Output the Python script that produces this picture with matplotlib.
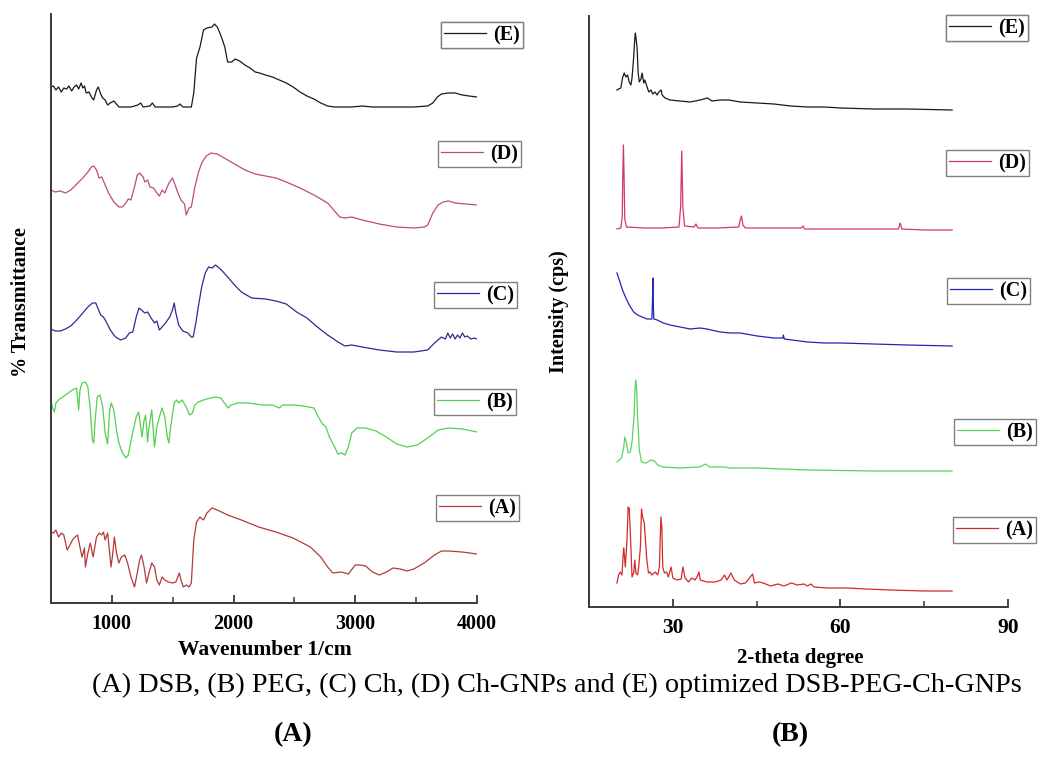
import numpy as np
import matplotlib
matplotlib.use("Agg")
import matplotlib.pyplot as plt
from matplotlib.ticker import MultipleLocator

plt.rcParams['font.family'] = ['Liberation Serif', 'DejaVu Serif']

# ---------------- FTIR (panel A) ----------------
ftir_e_wn = [500, 520, 540, 562, 585, 605, 628, 647, 670, 690, 710, 727, 747, 761, 775, 789, 812, 832, 851, 874,
             888, 908, 925, 945, 965, 987, 1016, 1038, 1058, 1101, 1157, 1214, 1237, 1257, 1313, 1333, 1356, 1498,
             1540, 1560, 1583, 1653, 1673, 1696, 1724, 1753, 1781, 1823, 1843, 1866, 1894, 1928, 1951, 1985, 2013,
             2050, 2093, 2135, 2178, 2212, 2263, 2319, 2376, 2433, 2489, 2546, 2603, 2660, 2716, 2773, 2830, 2915,
             2971, 3056, 3141, 3255, 3481, 3595, 3637, 3674, 3708, 3765, 3821, 3878, 3935, 4000]
ftir_e = [516, 517, 513, 516, 511, 515, 514, 517, 512, 516, 518, 514, 520, 515, 517, 510, 511, 506, 503, 513,
          516, 509, 505, 503, 498, 500, 502, 499, 496, 496, 496, 498, 500, 496, 497, 500, 496, 496,
          497, 499, 496, 496, 510, 545, 556, 573, 575, 576, 579, 576, 568, 556, 541, 541, 544,
          542, 538, 535, 531, 530, 528, 526, 523, 520, 516, 511, 507, 504, 500, 497, 496, 496,
          496, 497, 496, 496, 496, 497, 500, 506, 509, 510, 510, 508, 507, 506]

ftir_d_wn = [500, 534, 577, 619, 662, 704, 761, 803, 832, 851, 874, 894, 917, 945, 973, 1016, 1058, 1087, 1115,
             1135, 1157, 1186, 1209, 1228, 1257, 1271, 1294, 1313, 1342, 1370, 1390, 1413, 1435, 1469, 1498, 1520,
             1540, 1568, 1597, 1611, 1634, 1653, 1682, 1710, 1738, 1775, 1815, 1866, 1923, 2008, 2093, 2178, 2263,
             2348, 2433, 2546, 2660, 2773, 2872, 2915, 2971, 3056, 3198, 3340, 3481, 3566, 3595, 3637, 3680, 3722,
             3765, 3821, 3906, 4000]
ftir_d = [413, 411, 412, 410, 413, 418, 425, 431, 436, 437, 433, 425, 426, 418, 410, 401, 396, 396, 400,
          404, 403, 416, 428, 430, 426, 421, 423, 416, 415, 410, 407, 413, 410, 420, 425, 418,
          411, 403, 399, 388, 395, 396, 416, 430, 440, 447, 450, 449, 445, 439, 433, 429, 427,
          425, 421, 415, 408, 400, 386, 385, 386, 383, 379, 376, 375, 376, 378, 390, 398, 401,
          402, 400, 399, 398]

ftir_c_wn = [500, 534, 577, 619, 662, 704, 761, 803, 840, 868, 888, 908, 931, 959, 987, 1030, 1072, 1115, 1143,
             1172, 1200, 1223, 1243, 1271, 1294, 1322, 1350, 1370, 1390, 1413, 1441, 1475, 1498, 1512, 1526, 1549,
             1583, 1625, 1653, 1668, 1690, 1710, 1738, 1767, 1795, 1823, 1852, 1872, 1908, 1951, 2008, 2064, 2149,
             2263, 2348, 2433, 2518, 2603, 2688, 2773, 2858, 2915, 2971, 3056, 3198, 3340, 3481, 3595, 3651, 3708,
             3740, 3760, 3780, 3800, 3820, 3840, 3860, 3880, 3900, 3920, 3950, 3975, 4000]
ftir_c = [274, 272, 272, 274, 277, 282, 290, 296, 300, 300, 294, 288, 286, 280, 273, 266, 263, 265, 270,
          271, 286, 295, 293, 290, 291, 285, 280, 282, 273, 276, 280, 286, 293, 300, 290, 278,
          272, 270, 266, 266, 280, 296, 316, 330, 336, 335, 338, 336, 332, 326, 318, 311, 305,
          304, 302, 299, 291, 285, 276, 268, 261, 257, 258, 256, 253, 251, 251, 253, 260, 266,
          264, 270, 265, 269, 264, 268, 265, 270, 266, 267, 264, 265, 264]

ftir_b_wn = [500, 511, 528, 540, 562, 619, 676, 710, 727, 738, 755, 783, 803, 823, 840, 851, 863, 880, 902, 925,
             945, 965, 982, 996, 1016, 1038, 1058, 1087, 1115, 1135, 1163, 1200, 1220, 1237, 1248, 1265, 1277, 1294,
             1305, 1328, 1350, 1370, 1390, 1413, 1435, 1455, 1469, 1483, 1512, 1532, 1549, 1577, 1611, 1639, 1662,
             1682, 1710, 1753, 1809, 1852, 1894, 1937, 1957, 1979, 2036, 2121, 2234, 2319, 2376, 2404, 2489, 2574,
             2660, 2688, 2730, 2759, 2787, 2830, 2858, 2886, 2915, 2943, 2971, 3014, 3085, 3170, 3255, 3340, 3425,
             3510, 3595, 3680, 3765, 3878, 4000]
ftir_b = [203, 196, 191, 200, 203, 208, 213, 215, 193, 213, 220, 221, 216, 193, 163, 160, 183, 206, 208, 196,
          170, 159, 193, 200, 193, 173, 160, 150, 145, 148, 166, 186, 191, 176, 166, 183, 188, 161,
          176, 193, 156, 176, 186, 195, 186, 166, 160, 176, 200, 203, 200, 203, 196, 188, 190,
          198, 201, 203, 205, 206, 205, 198, 195, 198, 200, 200, 198, 198, 195, 198, 198, 197,
          195, 188, 179, 176, 166, 156, 149, 150, 148, 156, 170, 175, 175, 172, 166, 159, 156,
          158, 165, 173, 175, 174, 171]

ftir_a_wn = [500, 520, 540, 562, 585, 605, 633, 647, 676, 699, 718, 738, 755, 775, 783, 803, 823, 846, 860, 874,
             897, 917, 931, 945, 965, 982, 993, 1004, 1021, 1038, 1058, 1078, 1106, 1129, 1157, 1186, 1209, 1228,
             1243, 1265, 1285, 1305, 1328, 1350, 1370, 1390, 1413, 1435, 1464, 1498, 1526, 1554, 1568, 1588, 1611,
             1634, 1653, 1673, 1696, 1724, 1753, 1781, 1823, 1866, 1951, 2064, 2206, 2348, 2489, 2631, 2716, 2773,
             2815, 2886, 2943, 2999, 3042, 3085, 3141, 3198, 3255, 3311, 3368, 3425, 3481, 3566, 3651, 3708, 3765,
             3878, 4000]
ftir_a = [71, 70, 73, 66, 70, 68, 53, 56, 63, 66, 68, 56, 46, 55, 36, 50, 60, 46, 56, 66,
          70, 68, 71, 63, 70, 50, 36, 46, 66, 50, 40, 46, 48, 40, 26, 16, 30, 43,
          48, 36, 20, 30, 40, 36, 23, 18, 26, 23, 21, 20, 21, 30, 23, 16, 18,
          16, 20, 63, 81, 86, 83, 90, 95, 93, 88, 83, 76, 71, 65, 56, 46, 36,
          30, 31, 29, 38, 38, 37, 31, 28, 31, 35, 34, 32, 34, 40, 48, 52, 52,
          51, 49]

# ---------------- XRD (panel B) ----------------
xrd_e_2t = [20.0, 20.3, 20.7, 21.0, 21.3, 21.6, 21.9, 22.2, 22.5, 22.7, 23.0, 23.2, 23.3, 23.6, 23.8, 24.0, 24.3,
            24.5, 24.8, 25.0, 25.4, 25.7, 26.1, 26.4, 26.8, 27.2, 27.5, 27.9, 28.1, 28.6, 29.5, 31.3, 33.1, 34.9,
            36.2, 37.0, 38.5, 40.0, 42.1, 45.1, 48.1, 51.1, 54.1, 57.1, 60.1, 66.0, 72.0, 80.0]
xrd_e = [517, 518, 519, 529, 534, 530, 532, 525, 522, 529, 550, 569, 574, 560, 534, 525, 528,
         534, 524, 527, 520, 515, 517, 513, 515, 512, 515, 517, 512, 509, 507, 506, 505, 507,
         509, 506, 507, 507, 505, 504, 503, 501, 500, 500, 499, 498, 498, 497]

xrd_d_2t = [20.0, 20.7, 20.95, 21.05, 21.16, 21.28, 21.4, 21.7, 25.0, 28.0, 31.1, 31.4, 31.6, 31.8, 32.1, 33.8,
            34.15, 34.5, 38.0, 41.8, 42.1, 42.3, 42.55, 43.0, 48.0, 53.0, 53.3, 53.6, 60.0, 65.1, 70.4, 70.7,
            71.0, 75.0, 80.0]
xrd_d = [378, 379, 390, 430, 462, 430, 388, 380, 379, 379, 380, 400, 456, 400, 381, 380,
         383, 379, 379, 380, 388, 391, 382, 379, 379, 379, 381, 378, 378, 378, 378, 384,
         378, 377, 377]

xrd_c_2t = [20.0, 20.3, 20.6, 21.0, 21.6, 22.2, 23.0, 23.7, 24.5, 25.4, 26.25, 26.37, 26.43, 26.49, 26.6, 27.2,
            28.3, 29.5, 31.3, 33.1, 34.9, 36.1, 38.5, 40.3, 42.1, 45.1, 48.1, 49.7, 49.8, 49.95, 54.1, 57.1,
            60.1, 66.0, 72.0, 80.0]
xrd_c = [334, 329, 324, 317, 309, 302, 295, 292, 290, 288, 288, 307, 329, 307, 288, 287,
         284, 282, 280, 278, 279, 278, 275, 274, 274, 271, 269, 269, 272, 268, 265, 264,
         264, 263, 262, 261]

xrd_b_2t = [20.0, 20.8, 21.2, 21.4, 21.7, 22.0, 22.4, 22.75, 23.1, 23.25, 23.38, 23.55, 23.7, 23.8, 24.0, 24.4,
            25.2, 26.1, 26.7, 27.3, 28.2, 31.2, 34.8, 35.85, 36.6, 39.3, 40.2, 45.1, 54.1, 66.0, 80.0]
xrd_b = [145, 149, 159, 170, 164, 154, 155, 167, 195, 220, 227, 215, 190, 180, 157, 145,
         144, 147, 146, 142, 140, 139, 140, 143, 140, 140, 139, 139, 137, 136, 136]

xrd_a_2t = [20.0, 20.3, 20.6, 20.9, 21.2, 21.3, 21.5, 21.8, 22.0, 22.2, 22.5, 22.7, 23.0, 23.2, 23.4, 23.7, 23.9,
            24.2, 24.4, 24.6, 24.9, 25.1, 25.35, 25.65, 25.95, 26.25, 26.85, 27.3, 27.6, 27.87, 28.04, 28.2,
            28.5, 28.9, 29.2, 29.7, 30.0, 30.7, 31.5, 31.8, 32.2, 32.8, 33.4, 34.0, 34.5, 34.7, 34.9, 36.1,
            37.6, 38.65, 39.25, 39.7, 40.4, 41.0, 42.1, 43.0, 44.3, 44.6, 45.4, 46.2, 47.5, 48.8, 49.9, 51.2,
            52.3, 53.5, 54.1, 54.7, 55.3, 57.7, 61.3, 64.6, 69.0, 75.0, 80.0]
xrd_a = [24, 32, 35, 32, 59, 54, 40, 67, 100, 99, 60, 30, 34, 47, 34, 32, 40,
         60, 98, 90, 84, 67, 47, 34, 35, 32, 35, 32, 40, 90, 80, 40,
         34, 35, 30, 40, 29, 27, 28, 40, 29, 25, 29, 27, 32, 35, 27, 25,
         25, 27, 32, 27, 34, 27, 23, 24, 33, 24, 25, 24, 21, 23, 21, 24,
         22, 23, 21, 23, 20, 19, 19, 18, 17, 16, 16]

labels = ['(A)', '(B)', '(C)', '(D)', '(E)']
ftir_colors = ['#b43a3a', '#52d052', '#2c2c90', '#bc4a84', '#1a1a1a']
xrd_colors = ['#d42a2a', '#5cd45c', '#2424b8', '#d6336f', '#1a1a1a']

W, H = 1042, 757
fig = plt.figure(figsize=(W / 100, H / 100), dpi=100)
axA = fig.add_axes([51 / W, 1 - 603 / H, (477 - 51) / W, (603 - 14) / H])
axB = fig.add_axes([589 / W, 1 - 607 / H, (1008 - 589) / W, (607 - 16) / H])

ftir = [(ftir_a_wn, ftir_a), (ftir_b_wn, ftir_b), (ftir_c_wn, ftir_c), (ftir_d_wn, ftir_d), (ftir_e_wn, ftir_e)]
xrd = [(xrd_a_2t, xrd_a), (xrd_b_2t, xrd_b), (xrd_c_2t, xrd_c), (xrd_d_2t, xrd_d), (xrd_e_2t, xrd_e)]

linesA = [axA.plot(x, y, color=c, lw=0.9)[0] for (x, y), c in zip(ftir, ftir_colors)]
linesB = [axB.plot(x, y, color=c, lw=0.9)[0] for (x, y), c in zip(xrd, xrd_colors)]

for ax in (axA, axB):
    for s in ('top', 'right'):
        ax.spines[s].set_visible(False)
    for s in ('left', 'bottom'):
        ax.spines[s].set_linewidth(1.4)
        ax.spines[s].set_color('#3a3a3a')
    ax.set_yticks([])
    ax.tick_params(axis='x', which='major', direction='in', length=6, width=1.3, pad=8, color='#3a3a3a')
    ax.tick_params(axis='x', which='minor', direction='in', length=4, width=1.1, color='#3a3a3a')

axA.set_xlim(500, 4000)
axA.set_ylim(0, 589)
axA.set_xticks([1000, 2000, 3000, 4000])
axA.xaxis.set_minor_locator(MultipleLocator(500))
for t in axA.get_xticklabels():
    t.set_fontsize(14.5)
    t.set_fontweight('bold')

axB.set_xlim(15, 90)
axB.set_ylim(0, 591)
axB.set_xticks([30, 60, 90])
axB.xaxis.set_minor_locator(MultipleLocator(15))
for t in axB.get_xticklabels():
    t.set_fontsize(15.5)
    t.set_fontweight('bold')

fig.text(265 / W, 1 - 650 / H, 'Wavenumber 1/cm', ha='center', va='center', fontsize=15.5, fontweight='bold')
fig.text(800 / W, 1 - 658 / H, '2-theta degree', ha='center', va='center', fontsize=15, fontweight='bold')
fig.text(21 / W, 1 - 302 / H, '% Transmittance', ha='center', va='center', rotation=90,
         fontsize=14.5, fontweight='bold')
fig.text(559 / W, 1 - 312 / H, 'Intensity (cps)', ha='center', va='center', rotation=90,
         fontsize=14.5, fontweight='bold')

fig.text(557 / W, 1 - 685 / H,
         '(A) DSB, (B) PEG, (C) Ch, (D) Ch-GNPs and (E) optimized DSB-PEG-Ch-GNPs',
         ha='center', va='center', fontsize=20.3)
fig.text(293 / W, 1 - 735 / H, '(A)', ha='center', va='center', fontsize=20, fontweight='bold')
fig.text(790 / W, 1 - 735 / H, '(B)', ha='center', va='center', fontsize=20, fontweight='bold')

# one framed legend box per curve (top-left corners in pixels)
boxesA = [(436, 495), (434, 389), (434, 282), (438, 141), (441, 22)]
boxesB = [(953, 517), (954, 419), (947, 278), (946, 150), (946, 15)]


def add_box(ax, line, label, corner):
    leg = ax.legend([line], [label], loc='upper left',
                    bbox_to_anchor=(corner[0] / W, 1 - corner[1] / H), bbox_transform=fig.transFigure,
                    frameon=True, fancybox=False, edgecolor='#808080', framealpha=1, borderpad=0.15,
                    borderaxespad=0, handlelength=2.1, handletextpad=0.35,
                    prop={'family': 'Liberation Serif', 'weight': 'bold', 'size': 14.5})
    leg.get_frame().set_linewidth(1.0)
    leg.set_clip_on(False)
    ax.add_artist(leg)


for ln, lab, cr in zip(linesA, labels, boxesA):
    add_box(axA, ln, lab, cr)
for ln, lab, cr in zip(linesB, labels, boxesB):
    add_box(axB, ln, lab, cr)

fig.savefig('out.png', dpi=100)
